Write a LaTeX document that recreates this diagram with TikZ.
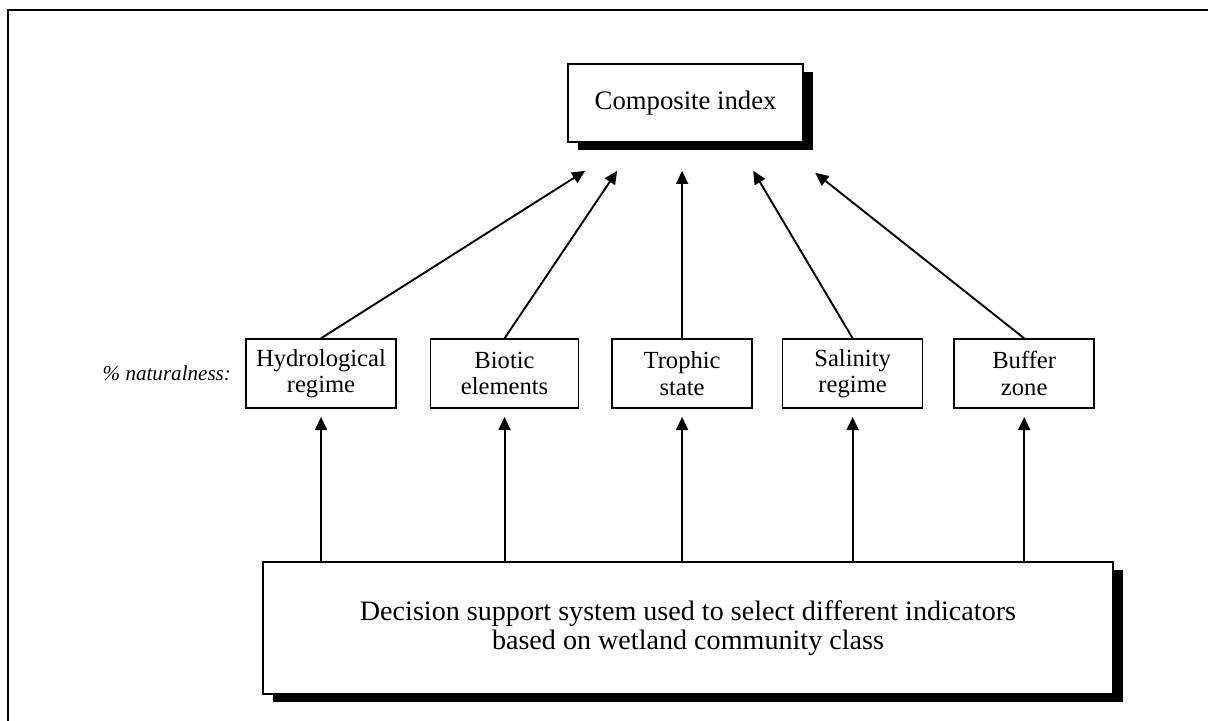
\documentclass[tikz,border=0pt]{standalone}
\usepackage{fontspec}
\setmainfont{Liberation Serif}
\usetikzlibrary{positioning,shadows,arrows.meta,calc}

\begin{document}
\begin{tikzpicture}[
    node distance=0.8cm,
    every node/.style={font=\fontsize{17.5}{19}\selectfont},
    mainbox/.style={draw, line width=1.1pt, fill=white, align=center,
        drop shadow={shadow xshift=0.24cm, shadow yshift=-0.21cm, opacity=1, fill=black}},
    factor/.style={draw, line width=1.1pt, align=center, minimum width=3.5cm, minimum height=1.725cm, inner sep=2pt},
    arrow/.style={-{Triangle[length=0.33cm, width=0.3cm]}, line width=1.35pt},
]
\useasboundingbox (0,0) rectangle (30.2,-18.025);

% Open frame (top and left only)
\draw[line width=1.4pt] (30.2,-0.25) -- (0.2,-0.25) -- (0.2,-18.025);

% Composite index
\node[mainbox, minimum width=5.875cm, minimum height=1.95cm, font=\fontsize{19}{21}\selectfont] (comp) at (17.14,-2.575) {Composite index};

% Five components
\node[factor, minimum width=3.75cm] (hyd) at (8.025,-9.34) {Hydrological\\regime};
\node[factor, minimum width=3.7cm, right=0.825cm of hyd] (bio) {Biotic\\elements};
\node[factor, right=of bio] (tro) {Trophic\\state};
\node[factor, right=0.725cm of tro] (sal) {Salinity\\regime};
\node[factor, right=0.75cm of sal] (buf) {Buffer\\zone};

\node[left=0.35cm of hyd, inner sep=0pt, font=\fontsize{15}{17}\selectfont\itshape] (lbl) {\% naturalness:};

% Decision support system
\node[mainbox, minimum width=21.25cm, minimum height=3.3cm, font=\fontsize{20}{20.5}\selectfont] (dss) at (17.2,-15.7)
    {Decision support system used to select different indicators\\based on wetland community class};

% Arrow ends below the composite index
\coordinate (in1) at ($(comp.south)+(-2.51,-0.7)$);
\coordinate (in2) at ($(comp.south)+(-1.71,-0.7)$);
\coordinate (in3) at ($(comp.south -| tro.north)+(0,-0.7)$);
\coordinate (in4) at ($(comp.south)+(1.69,-0.7)$);
\coordinate (in5) at ($(comp.south)+(3.24,-0.75)$);

% Arrows up to the composite index
\draw[arrow] (hyd.north) -- (in1);
\draw[arrow] (bio.north) -- (in2);
\draw[arrow] (tro.north) -- (in3);
\draw[arrow] (sal.north) -- (in4);
\draw[arrow] (buf.north) -- (in5);

% Arrows up from the decision support system
\foreach \n in {hyd,bio,tro,sal,buf}
    \draw[arrow, shorten >=0.2cm] (dss.north -| \n) -- (\n.south);

\end{tikzpicture}
\end{document}
